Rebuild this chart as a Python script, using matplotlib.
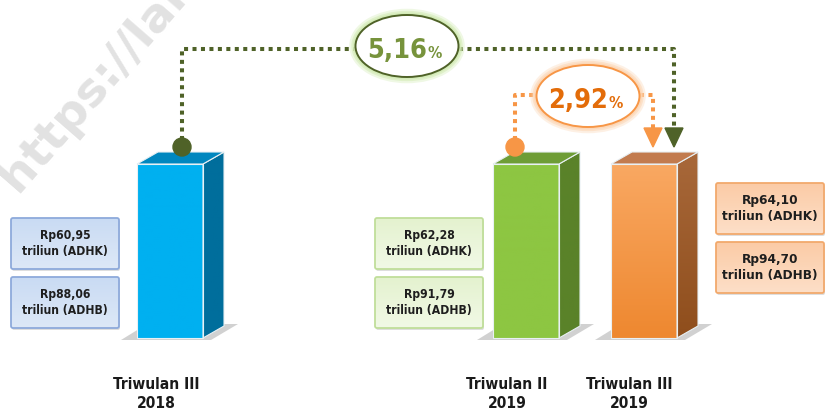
import matplotlib
matplotlib.use("Agg")
import matplotlib.pyplot as plt
import numpy as np
from matplotlib import font_manager
from matplotlib.colors import to_rgb
from matplotlib.font_manager import FontProperties
from matplotlib.patches import Polygon, Ellipse, FancyBboxPatch, Circle

# ---- data -----------------------------------------------------------------
periods = ["Triwulan III\n2018", "Triwulan II\n2019", "Triwulan III\n2019"]
adhk = [60.95, 62.28, 64.10]      # triliun rupiah, constant prices
adhb = [88.06, 91.79, 94.70]      # triliun rupiah, current prices
growth_yoy = 5.16                 # TW III 2019 vs TW III 2018
growth_qtq = 2.92                 # TW III 2019 vs TW II 2019

# ---- style / layout (pixel space of an 829x417 canvas) ---------------------
W, H = 829, 417
bar_x = [137, 493, 611]
bar_w, bar_h, base_y = 66, 174, 338
dep_x, dep_y = 21, 12
faces = [  # front (top, bottom), side (top, bottom), top face
    (("#00B0F0", "#00B0F0"), ("#006E9C", "#006E9C"), "#0087BF"),
    (("#8DC642", "#8DC642"), ("#5A8229", "#5A8229"), "#6E9D36"),
    (("#F9A862", "#EE8830"), ("#A8683A", "#8F4E1C"), "#C27B4E"),
]
box_styles = [(("#C9DBF3", "#DDE8F7"), "#8EAADB"),
              (("#E4F2CF", "#F1F9E6"), "#C0DE9A"),
              (("#FBCBA6", "#FDDFC8"), "#F2A96C")]
box_x = [11, 375, 716]
box_top = [218, 218, 183]
box_w, box_hh, box_gap = 108, 51, 8


def _w(v):
    if isinstance(v, str):
        return font_manager.weight_dict.get(v, 400)
    return v


def pick_narrow_bold():
    fl = font_manager.fontManager.ttflist
    for f in fl:
        if f.name == "Liberation Sans Narrow" and _w(f.weight) >= 600:
            return f.fname, 1.0
    for f in fl:
        narrow = ("Condensed" in f.name or "Narrow" in f.name
                  or f.stretch in ("condensed", "semi-condensed", "extra-condensed"))
        if narrow and _w(f.weight) >= 600 and f.style == "normal":
            return f.fname, 0.95
    for f in fl:
        if f.name == "Liberation Sans" and _w(f.weight) >= 600 and f.style == "normal":
            return f.fname, 0.86
    return None, 0.8


NFILE, SCALE = pick_narrow_bold()


def fp(size):
    if NFILE:
        return FontProperties(fname=NFILE, size=size * SCALE)
    return FontProperties(family="DejaVu Sans", weight="bold", size=size * SCALE)


def grad_fill(ax, patch, c_top, c_bot, y0, y1, x0, x1, z):
    """Vertical gradient clipped to a patch (y axis is inverted: y0 is the top)."""
    ax.add_patch(patch)
    t = np.linspace(0, 1, 64)[:, None]
    img = (1 - t) * np.array(to_rgb(c_top)) + t * np.array(to_rgb(c_bot))
    im = ax.imshow(img[:, None, :], extent=(x0, x1, y1, y0), aspect="auto",
                   interpolation="bilinear", zorder=z)
    im.set_clip_path(patch)


fig = plt.figure(figsize=(W / 100, H / 100), dpi=100)
ax = fig.add_axes([0, 0, 1, 1])

# watermark
ax.text(17, 193, "https://lampung.bps.go.id", rotation=49, rotation_mode="anchor",
        ha="left", va="baseline", fontsize=34, fontweight="bold",
        color="#E2E2E2", family="DejaVu Sans", zorder=0)


def fmt(v):
    return f"Rp{v:.2f}".replace(".", ",")


for i, (x0, (cf, cs, ct)) in enumerate(zip(bar_x, faces)):
    top = base_y - bar_h
    # soft base shadow
    ax.add_patch(Polygon([(x0 - 16, base_y + 2), (x0 + bar_w + 8, base_y + 2),
                          (x0 + bar_w + dep_x + 14, base_y - dep_y - 2), (x0 + 10, base_y - dep_y - 2)],
                         closed=True, facecolor="#9A9A9A", alpha=0.45, edgecolor="none", zorder=1))
    front = Polygon([(x0, top), (x0 + bar_w, top), (x0 + bar_w, base_y), (x0, base_y)],
                    closed=True, facecolor="none", edgecolor="#E8F0F4", lw=0.8, zorder=2.1)
    grad_fill(ax, front, cf[0], cf[1], top, base_y, x0, x0 + bar_w, 2)
    side = Polygon([(x0 + bar_w, top), (x0 + bar_w + dep_x, top - dep_y),
                    (x0 + bar_w + dep_x, base_y - dep_y), (x0 + bar_w, base_y)],
                   closed=True, facecolor="none", edgecolor="#E8F0F4", lw=0.8, zorder=2.1)
    grad_fill(ax, side, cs[0], cs[1], top - dep_y, base_y, x0 + bar_w, x0 + bar_w + dep_x, 2)
    ax.add_patch(Polygon([(x0, top), (x0 + dep_x, top - dep_y), (x0 + bar_w + dep_x, top - dep_y),
                          (x0 + bar_w, top)],
                         closed=True, facecolor=ct, edgecolor="#E8F0F4", lw=0.8, zorder=2.2))

    # value boxes
    (fc_top, fc_bot), ec = box_styles[i]
    fs = 10.2 if i == 2 else 9.2
    for j, (val, kind) in enumerate([(adhk[i], "ADHK"), (adhb[i], "ADHB")]):
        by = box_top[i] + j * (box_hh + box_gap)
        ax.add_patch(FancyBboxPatch((box_x[i] + 1, by + 2), box_w, box_hh,
                                    boxstyle="round,pad=0,rounding_size=2",
                                    facecolor="#C8C8C8", edgecolor="none", alpha=0.6, zorder=2))
        box = FancyBboxPatch((box_x[i], by), box_w, box_hh,
                             boxstyle="round,pad=0,rounding_size=2",
                             facecolor="none", edgecolor=ec, lw=1.3, zorder=3.1)
        grad_fill(ax, box, fc_top, fc_bot, by, by + box_hh, box_x[i], box_x[i] + box_w, 3)
        ax.text(box_x[i] + box_w / 2, by + box_hh / 2, f"{fmt(val)}\ntriliun ({kind})",
                ha="center", va="center", fontproperties=fp(fs),
                color="#1E1E1E", linespacing=1.35, zorder=4)

# period labels
label_cx = [156, 507, 629]
for cx, lab in zip(label_cx, periods):
    ax.text(cx, 394, lab, ha="center", va="center", fontproperties=fp(11.8),
            color="#1A1A1A", linespacing=1.3)

# connectors
dot = dict(lw=2.9, linestyle=(0, (1, 1.1)), solid_capstyle="butt", dash_capstyle="butt", zorder=5)
g_col, o_col = "#4F6228", "#F79646"

gx0 = bar_x[0] + bar_w / 2 + 12
ax.plot([gx0, gx0, 356], [140, 49, 49], color=g_col, **dot)
ax.plot([459, 674, 674], [49, 49, 128], color=g_col, **dot)
ax.add_patch(Circle((gx0, 147), 9, color=g_col, zorder=6))
ax.add_patch(Polygon([(665, 128), (683, 128), (674, 147)], closed=True, color=g_col, zorder=6))

ox0 = bar_x[1] + bar_w / 2 - 11
ax.plot([ox0, ox0, 536], [140, 95, 95], color=o_col, **dot)
ax.plot([640, 653, 653], [95, 95, 128], color=o_col, **dot)
ax.add_patch(Circle((ox0, 147), 9, color=o_col, zorder=6))
ax.add_patch(Polygon([(644, 128), (662, 128), (653, 147)], closed=True, color=o_col, zorder=6))

# growth ellipses
for (cx, cy), val, edge, glow, tcol in [((407, 46), growth_yoy, "#4F6228", "#D2EBB4", "#77933C"),
                                        ((588, 96), growth_qtq, "#F79646", "#FCD6B4", "#E36C09")]:
    for lw, a in [(9, 0.35), (6, 0.55), (3.5, 0.8)]:
        ax.add_patch(Ellipse((cx, cy), 103, 62, facecolor="none", edgecolor=glow, lw=lw, alpha=a, zorder=6))
    ax.add_patch(Ellipse((cx, cy), 103, 62, facecolor="white", edgecolor=edge, lw=1.4, zorder=7))
    num = f"{val:.2f}".replace(".", ",")
    ax.text(cx + 20, cy + 12, num, ha="right", va="baseline", fontproperties=fp(20.5),
            color=tcol, zorder=8)
    ax.text(cx + 21, cy + 12, "%", ha="left", va="baseline", fontproperties=fp(12),
            color=tcol, zorder=8)

ax.set_xlim(0, W)
ax.set_ylim(H, 0)
ax.axis("off")

fig.savefig("out.png", dpi=100)
